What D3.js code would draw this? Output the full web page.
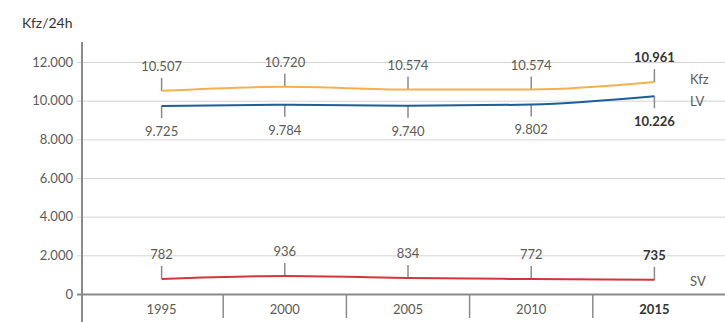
<!DOCTYPE html>
<html>
<head>
<meta charset="utf-8">
<script src="https://cdn.jsdelivr.net/npm/d3@7/dist/d3.min.js"></script>
<style>
  html, body { margin: 0; padding: 0; background: #fff; }
  svg { display: block; font-family: Lato, "Open Sans", sans-serif; }
</style>
</head>
<body>
<svg id="chart" width="725" height="322"></svg>
<script>
// Daily traffic volumes (vehicles per 24h)
const years = ["1995", "2000", "2005", "2010", "2015"];
const kfz = [10507, 10720, 10574, 10574, 10961];   // all vehicles
const lv = [9725, 9784, 9740, 9802, 10226];        // light vehicles
const sv = [782, 936, 834, 772, 735];              // heavy vehicles
const yTicks = [0, 2000, 4000, 6000, 8000, 10000, 12000];
const unitLabel = "Kfz/24h";

const svg = d3.select("#chart");
const fmt = d3.formatLocale({ decimal: ",", thousands: ".", grouping: [3], currency: ["", "€"] }).format(",d");

const axisX = 82;
const x = d3.scalePoint().domain(years).range([100, 716]).padding(0.5);
const y = d3.scaleLinear().domain([0, 12000]).range([294, 62]);
const step = x.step();
const last = years[years.length - 1];

// unit title
svg.append("text").attr("x", 22).attr("y", 28)
  .attr("font-size", 14).attr("fill", "#333").text(unitLabel);

// horizontal gridlines + y labels
const yAxis = d3.axisLeft(y).tickValues(yTicks).tickFormat(fmt).tickSize(-(725 - axisX)).tickPadding(9);
const gy = svg.append("g").attr("transform", `translate(${axisX},0)`).call(yAxis);
gy.select(".domain").remove();
gy.selectAll(".tick line")
  .attr("x1", -5)
  .attr("stroke", d => d === 0 ? "#8a8a8a" : "#d4d4d4")
  .attr("stroke-width", d => d === 0 ? 2 : 1);
gy.selectAll(".tick text").attr("font-size", 13).attr("fill", "#5a5a5a")
  .attr("font-family", "Lato, 'Open Sans', sans-serif");

// vertical y axis line
svg.append("line").attr("x1", axisX).attr("x2", axisX).attr("y1", 42).attr("y2", 322)
  .attr("stroke", "#8a8a8a").attr("stroke-width", 2);

// category dividers below the baseline
svg.append("g").selectAll("line").data(years.slice(1)).join("line")
  .attr("x1", d => x(d) - step / 2).attr("x2", d => x(d) - step / 2)
  .attr("y1", y(0)).attr("y2", 318)
  .attr("stroke", "#8a8a8a").attr("stroke-width", 1.5);

// year labels
svg.append("g").selectAll("text").data(years).join("text")
  .attr("x", d => x(d)).attr("y", 314)
  .attr("text-anchor", "middle").attr("font-size", 13)
  .attr("fill", d => d === last ? "#333" : "#5a5a5a")
  .attr("font-weight", d => d === last ? "bold" : "normal")
  .text(d => d);

const series = [
  { name: "Kfz", values: kfz, color: "#f5b04e", above: true, dy: -3 },
  { name: "LV", values: lv, color: "#1d5e98", above: false, dy: 5 },
  { name: "SV", values: sv, color: "#d2363c", above: true, dy: 2 }
];

const line = d3.line().x(d => x(d.year)).y(d => y(d.value)).curve(d3.curveMonotoneX);

series.forEach(s => {
  const pts = years.map((yr, i) => ({ year: yr, value: s.values[i] }));
  const g = svg.append("g");

  // value ticks
  g.selectAll("line").data(pts).join("line")
    .attr("x1", d => x(d.year)).attr("x2", d => x(d.year))
    .attr("y1", d => y(d.value))
    .attr("y2", d => y(d.value) + (s.above ? -13 : 12))
    .attr("stroke", "#8a8a8a").attr("stroke-width", 1.5);

  g.append("path").datum(pts)
    .attr("d", line).attr("fill", "none")
    .attr("stroke", s.color).attr("stroke-width", 2);

  // value labels
  g.selectAll("text.val").data(pts).join("text")
    .attr("class", "val")
    .attr("x", d => x(d.year))
    .attr("y", d => y(d.value) + (s.above ? -20 : 30))
    .attr("text-anchor", "middle").attr("font-size", 13)
    .attr("fill", d => d.year === last ? "#333" : "#5a5a5a")
    .attr("font-weight", d => d.year === last ? "bold" : "normal")
    .text(d => fmt(d.value));

  // series name at the right
  g.append("text")
    .attr("x", 690).attr("y", y(s.values[s.values.length - 1]) + s.dy + 4.5)
    .attr("font-size", 13).attr("fill", "#5a5a5a")
    .text(s.name);
});
</script>
</body>
</html>
